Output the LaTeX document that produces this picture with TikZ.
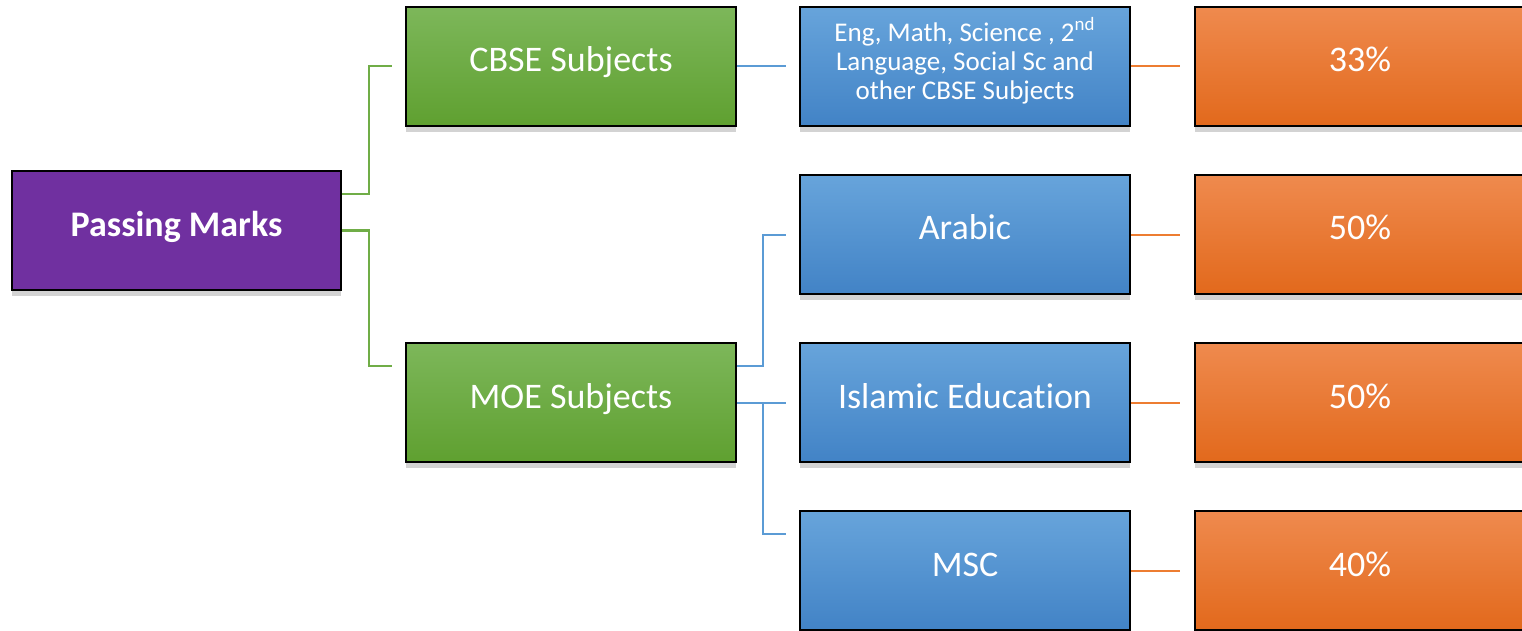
\documentclass[tikz,border=0pt]{standalone}
\usepackage{fontspec}
\setmainfont{Carlito}[Ligatures=CommonOff]
\usetikzlibrary{shadows}
\definecolor{pmpurple}{HTML}{7030A0}
\definecolor{grtop}{HTML}{7DB75A}
\definecolor{grbot}{HTML}{5FA030}
\definecolor{grline}{HTML}{70AD47}
\definecolor{bltop}{HTML}{67A4DB}
\definecolor{blbot}{HTML}{4283C6}
\definecolor{blline}{HTML}{5B9BD5}
\definecolor{ortop}{HTML}{EF8A4E}
\definecolor{orbot}{HTML}{E2691C}
\definecolor{orline}{HTML}{ED7D31}
\begin{document}
\begin{tikzpicture}[x=0.5pt, y=-0.5pt,
    box/.style={draw=black, line width=1.3pt, minimum width=165pt, minimum height=59.5pt,
      inner sep=2pt, text=white, font=\fontsize{18}{21.6}\selectfont,
      text height=12pt, text depth=6.5pt,
      drop shadow={opacity=0.35, shadow xshift=0pt, shadow yshift=-3pt}},
    purplebox/.style={box, fill=pmpurple, font=\fontsize{18}{21.6}\selectfont\bfseries},
    greenbox/.style={box, top color=grtop, bottom color=grbot},
    bluebox/.style={box, top color=bltop, bottom color=blbot},
    orangebox/.style={box, top color=ortop, bottom color=orbot},
    gline/.style={draw=grline, line width=1pt},
    bline/.style={draw=blline, line width=1pt},
    oline/.style={draw=orline, line width=1pt}]
      \useasboundingbox (0,0) rectangle (1522,631);
      \node[purplebox, minimum width=164.5pt] (pm) at (176.5,230.5) {Passing Marks};
      \node[greenbox] (cbse) at (571,66.5)  {CBSE Subjects};
      \node[greenbox] (moe)  at (571,402.5) {MOE Subjects};
      \node[bluebox, align=center, font=\fontsize{13.5}{14.5}\selectfont,
            text height=, text depth=8pt] (eng) at (965,66.5)
        {Eng, Math, Science , 2\textsuperscript{nd}\\Language, Social Sc and\\other CBSE Subjects};
      \node[bluebox] (ar)  at (965,234.5) {Arabic};
      \node[bluebox] (isl) at (965,402.5) {Islamic Education};
      \node[bluebox] (msc) at (965,570.5) {MSC};
      \node[orangebox] (p1) at (1360,66.5)  {33\%};
      \node[orangebox] (p2) at (1360,234.5) {50\%};
      \node[orangebox] (p3) at (1360,402.5) {50\%};
      \node[orangebox] (p4) at (1360,570.5) {40\%};
      % level 1
      \draw[gline] ([yshift=18.25pt]pm.east) -- ++(27,0) |- ([xshift=-6.5pt]cbse.west);
      \draw[gline] (pm.east) -- ++(27,0) |- ([xshift=-6.5pt,yshift=18.25pt]moe.west);
      % level 2
      \draw[bline] (cbse.east) -- ([xshift=-6.5pt]eng.west);
      \draw[bline] ([yshift=18.25pt]moe.east) -- ++(26,0) |- ([xshift=-6.5pt]ar.west);
      \draw[bline] (moe.east) -- ([xshift=-6.5pt]isl.west);
      \draw[bline] (moe.east) ++(26,0) |- ([xshift=-6.5pt,yshift=18.25pt]msc.west);
      % level 3
      \draw[oline] (eng.east) -- ([xshift=-7pt]p1.west);
      \draw[oline] (ar.east)  -- ([xshift=-7pt]p2.west);
      \draw[oline] (isl.east) -- ([xshift=-7pt]p3.west);
      \draw[oline] (msc.east) -- ([xshift=-7pt]p4.west);
\end{tikzpicture}
\end{document}
